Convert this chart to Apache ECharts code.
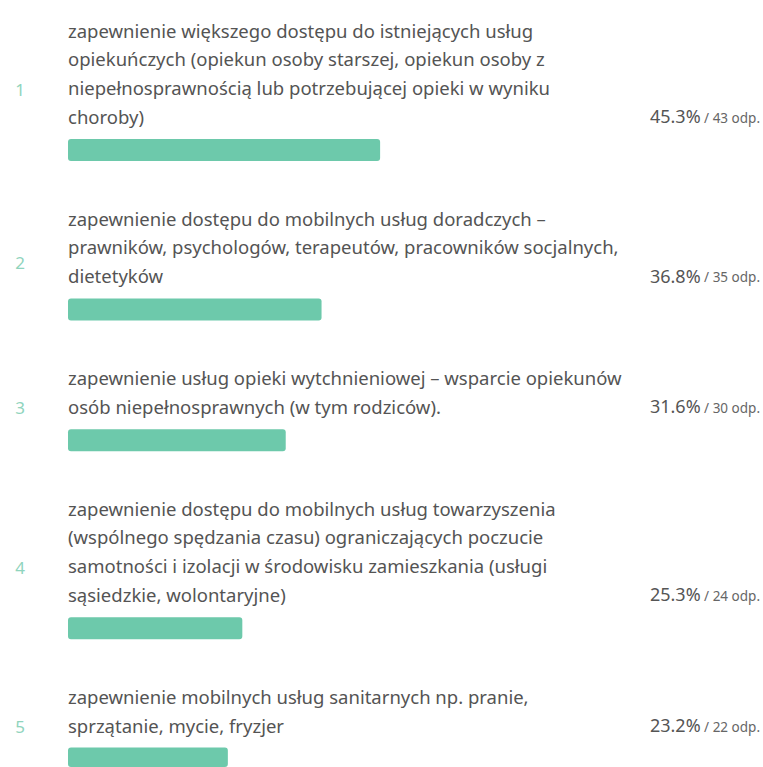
<!DOCTYPE html>
<html>
<head>
<meta charset="utf-8">
<script src="https://cdn.jsdelivr.net/npm/echarts@6/dist/echarts.min.js"></script>
<style>
  html, body { margin: 0; padding: 0; background: #fff; }
  #chart { width: 763px; height: 767px; }
</style>
</head>
<body>
<div id="chart"></div>
<script>
// dane z wykresu
var ranks = ['1', '2', '3', '4', '5'];
var labels = [
  ['zapewnienie większego dostępu do istniejących usług',
   'opiekuńczych (opiekun osoby starszej, opiekun osoby z',
   'niepełnosprawnością lub potrzebującej opieki w wyniku',
   'choroby)'],
  ['zapewnienie dostępu do mobilnych usług doradczych –',
   'prawników, psychologów, terapeutów, pracowników socjalnych,',
   'dietetyków'],
  ['zapewnienie usług opieki wytchnieniowej – wsparcie opiekunów',
   'osób niepełnosprawnych (w tym rodziców).'],
  ['zapewnienie dostępu do mobilnych usług towarzyszenia',
   '(wspólnego spędzania czasu) ograniczających poczucie',
   'samotności i izolacji w środowisku zamieszkania (usługi',
   'sąsiedzkie, wolontaryjne)'],
  ['zapewnienie mobilnych usług sanitarnych np. pranie,',
   'sprzątanie, mycie, fryzjer']
];
var percents = [45.3, 36.8, 31.6, 25.3, 23.2];
var counts = [43, 35, 30, 24, 22];

var FONT = 'Noto Sans';
var LH = 28.7;      // odstęp wierszy
var BAR_OFF = 34;   // ostatni wiersz -> środek paska
var GAP = 68;       // pasek -> następny blok
var LEFT = 68, RIGHT = 6;

var grids = [], xAxes = [], yAxes = [], series = [], graphics = [];
var y0 = 30;
for (var i = 0; i < labels.length; i++) {
  var lines = labels[i];
  var lastLine = y0 + (lines.length - 1) * LH;
  var barY = lastLine + BAR_OFF;

  grids.push({ left: LEFT, right: RIGHT, top: barY - 11.5, height: 23 });
  xAxes.push({ type: 'value', gridIndex: i, min: 0, max: 100, show: false });
  yAxes.push({ type: 'category', gridIndex: i, data: [ranks[i]], show: false });
  series.push({
    type: 'bar', xAxisIndex: i, yAxisIndex: i,
    data: [percents[i]], barWidth: 22,
    itemStyle: { color: '#6dc9ab', borderRadius: 3 },
    silent: true
  });

  // opis
  for (var k = 0; k < lines.length; k++) {
    graphics.push({
      type: 'text', x: LEFT, y: y0 + k * LH,
      style: { text: lines[k], font: '18.5px "' + FONT + '"', fill: '#545454',
               textAlign: 'left', textVerticalAlign: 'middle' }
    });
  }
  // numer
  graphics.push({
    type: 'text', x: 20, y: (y0 + barY) / 2 - 1,
    style: { text: ranks[i], font: '17px "' + FONT + '"', fill: '#8fd4bd',
             textAlign: 'center', textVerticalAlign: 'middle' }
  });
  // procent / odp.
  graphics.push({
    type: 'text', x: 760, y: lastLine,
    style: {
      text: '{a|' + percents[i].toFixed(1) + '%}{b| / ' + counts[i] + ' odp.}',
      textAlign: 'right', textVerticalAlign: 'middle',
      rich: {
        a: { fontFamily: FONT, fontSize: 18, fill: '#555555', color: '#555555' },
        b: { fontFamily: FONT, fontSize: 13.5, fill: '#666666', color: '#666666', padding: [3, 0, 0, 0] }
      }
    }
  });

  y0 = barY + GAP;
}

var chart = echarts.init(document.getElementById('chart'), null, { renderer: 'svg' });
chart.setOption({
  animation: false,
  backgroundColor: '#ffffff',
  grid: grids,
  xAxis: xAxes,
  yAxis: yAxes,
  series: series,
  graphic: graphics
});
</script>
</body>
</html>
